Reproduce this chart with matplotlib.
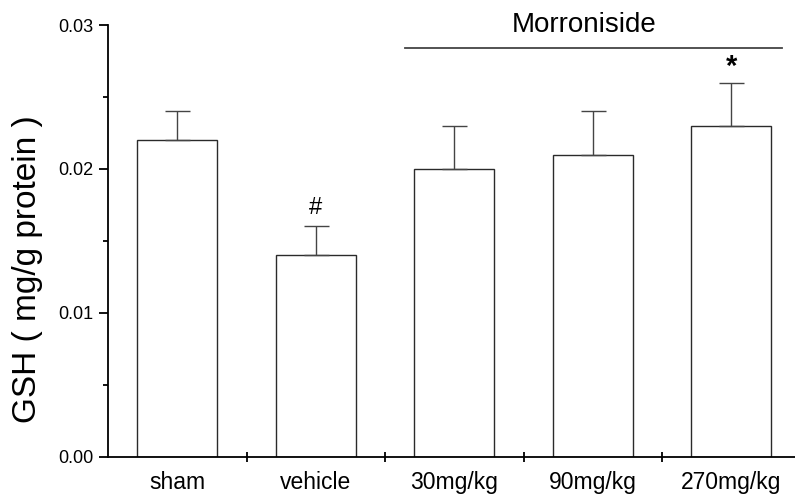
import matplotlib
matplotlib.use("Agg")
import matplotlib.pyplot as plt
from matplotlib.ticker import MultipleLocator, FixedLocator

plt.rcParams['font.family'] = ['Liberation Sans', 'DejaVu Sans']

categories = ["sham", "vehicle", "30mg/kg", "90mg/kg", "270mg/kg"]
values = [0.022, 0.014, 0.020, 0.021, 0.023]
errors = [0.002, 0.002, 0.003, 0.003, 0.003]
marks = ["", "#", "", "", "*"]
group_label = "Morroniside"

fig = plt.figure(figsize=(7.95, 5.01), dpi=100)
ax = fig.add_axes([108/795, (501-456.7)/501, 687/795, (456.7-25)/501])

x = [i + 0.5 for i in range(len(categories))]
ax.bar(x, values, width=0.578, color="white", edgecolor="#2a2a2a", linewidth=1.0)
ax.errorbar(x, values, yerr=[[0]*len(values), errors], fmt="none",
            ecolor="#444444", elinewidth=1.0, capsize=9, capthick=1.0)

for xi, v, e, m in zip(x, values, errors, marks):
    if m == "*":
        ax.text(xi, v + e + 0.0005, m, ha="center", va="baseline", fontsize=21, fontweight="bold")
    elif m:
        ax.text(xi, v + e + 0.0009, m, ha="center", va="baseline", fontsize=17)

ax.set_xlim(0, 4.96)
ax.set_ylim(0, 0.03)
ax.spines['top'].set_visible(False)
ax.spines['right'].set_visible(False)
ax.spines['left'].set_linewidth(1.3)
ax.spines['bottom'].set_linewidth(1.3)

ax.yaxis.set_major_locator(FixedLocator([0, 0.01, 0.02, 0.03]))
ax.yaxis.set_minor_locator(MultipleLocator(0.005))
ax.set_yticklabels(["0.00", "0.01", "0.02", "0.03"])
ax.tick_params(axis='y', which='major', direction='out', length=6.5, width=1.3, labelsize=13, pad=4)
ax.tick_params(axis='y', which='minor', direction='out', length=3.5, width=1.3)

ax.xaxis.set_major_locator(FixedLocator([1, 2, 3, 4]))
ax.xaxis.set_major_formatter(plt.NullFormatter())
ax.xaxis.set_minor_locator(FixedLocator(x))
ax.set_xticklabels(categories, minor=True)
ax.tick_params(axis='x', which='major', direction='inout', length=6.5, width=1.3)
ax.tick_params(axis='x', which='minor', length=0, labelsize=16.5, pad=10)

ax.set_ylabel("GSH ( mg/g protein )", fontsize=24)
ax.yaxis.set_label_coords(-0.0946, 0.435)

ax.plot([2.146, 4.868], [0.02838, 0.02838], color="#444444", linewidth=1.3, clip_on=False)
ax.text(3.437, 0.02951, group_label, ha="center", va="baseline", fontsize=20, clip_on=False)

fig.savefig("out.png", dpi=100)
